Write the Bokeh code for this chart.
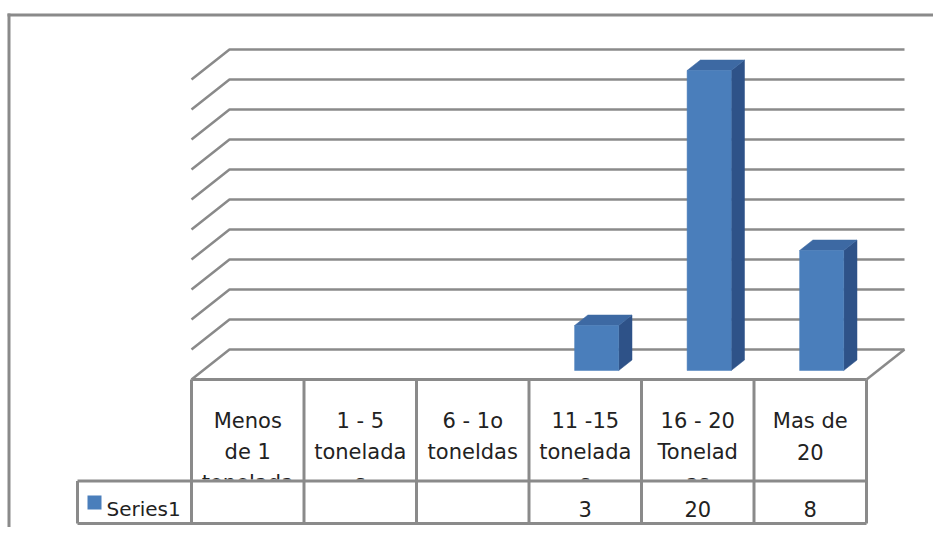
from bokeh.plotting import figure
from bokeh.models import Range1d
from bokeh.embed import file_html
from bokeh.resources import INLINE
from bokeh.core.properties import value as pval

# ---------------- data ----------------
series_name = "Series1"
categories = ["Menos de 1 tonelada", "1 - 5 toneladas", "6 - 1o toneldas",
              "11 -15 toneladas", "16 - 20 Toneladas", "Mas de 20"]
category_lines = [["Menos", "de 1", "tonelada"],
                  ["1 - 5", "tonelada", "s"],
                  ["6 - 1o", "toneldas"],
                  ["11 -15", "tonelada", "s"],
                  ["16 - 20", "Tonelad", "as"],
                  ["Mas de", "20"]]
values = [None, None, None, 3, 20, 8]
y_max = 20
y_step = 2

# ---------------- layout ----------------
W, H = 933, 527
COL0_X, COL_W = 191.0, 112.5      # px of category 0 left edge, column width
BASE_Y, UNIT_PX = 379.0, 15.0     # px of value 0 (front), px per value unit
DEPTH_DX, DEPTH_DY = 38.0, 30.0   # 3D depth offset in px

def px(X):
    return (X - COL0_X) / COL_W

def py(Y):
    return (BASE_Y - Y) / UNIT_PX

ZX = DEPTH_DX / COL_W
ZY = DEPTH_DY / UNIT_PX

def proj(x, v, z):
    return x + ZX * z, v + ZY * z

GRID = "#8A8A8A"
TEXT = "#222222"
FONT = "DejaVu Sans"
FS = "21px"
FRONT, TOP, SIDE = "#4A7EBB", "#3D69A3", "#2E5288"

p = figure(width=W, height=H,
           x_range=Range1d(px(0), px(W)),
           y_range=Range1d(py(H), py(0)),
           x_axis_location=None, y_axis_location=None,
           output_backend="svg", toolbar_location=None, min_border=0)
p.grid.visible = False
p.outline_line_color = None
p.background_fill_color = "white"
p.border_fill_color = "white"

n = len(categories)

# outer chart border (top and left visible)
p.line([px(8.5), px(8.5)], [py(13), py(H)], line_color="#8A8A8A", line_width=3)
p.line([px(7), px(W)], [py(14.5), py(14.5)], line_color="#8A8A8A", line_width=3)

# gridlines: left wall + back wall
gxs, gys = [], []
for v in range(0, y_max + 1, y_step):
    a = proj(0, v, 0)
    b = proj(0, v, 1)
    c = proj(n, v, 1)
    gxs.append([a[0], b[0], c[0]])
    gys.append([a[1], b[1], c[1]])
# floor right edge
a = proj(n, 0, 0)
b = proj(n, 0, 1)
gxs.append([a[0], b[0]])
gys.append([a[1], b[1]])
p.multi_line(gxs, gys, line_color=GRID, line_width=2.5)

# 3D bars
z0, z1 = 0.30, 0.65
hw = 0.196
fx, fy, txs, tys, sxs, sys_ = [], [], [], [], [], []
for i, v in enumerate(values):
    if not v:
        continue
    c = i + 0.5
    pts = [proj(c - hw, 0, z0), proj(c + hw, 0, z0), proj(c + hw, v, z0), proj(c - hw, v, z0)]
    fx.append([q[0] for q in pts]); fy.append([q[1] for q in pts])
    pts = [proj(c - hw, v, z0), proj(c + hw, v, z0), proj(c + hw, v, z1), proj(c - hw, v, z1)]
    txs.append([q[0] for q in pts]); tys.append([q[1] for q in pts])
    pts = [proj(c + hw, 0, z0), proj(c + hw, v, z0), proj(c + hw, v, z1), proj(c + hw, 0, z1)]
    sxs.append([q[0] for q in pts]); sys_.append([q[1] for q in pts])
p.patches(sxs, sys_, fill_color=SIDE, line_color=SIDE, line_width=0.5)
p.patches(txs, tys, fill_color=TOP, line_color=TOP, line_width=0.5)
p.patches(fx, fy, fill_color=FRONT, line_color=FRONT, line_width=0.5)

# category labels in data table
LINE_BASE = [420.5, 451.5, 482.5]
tx, ty, tt = [], [], []
for i, lines in enumerate(category_lines):
    for k, s in enumerate(lines):
        tx.append(i + 0.5)
        ty.append(py(LINE_BASE[k]))
        tt.append(s)
p.text(tx, ty, text=tt, text_align="center", text_baseline="alphabetic",
       text_font=pval(FONT), text_font_size=FS, text_color=TEXT)

# clip overflowing third line at the row border
ROW_Y, BOT_Y, LEFT_X = 480.5, 523.0, 77.0
p.quad(left=[0], right=[n], top=[py(479)], bottom=[py(500)],
       fill_color="white", line_color=None)

# data table grid
lxs, lys = [], []
lxs.append([0, n]); lys.append([0, 0])
for i in range(n + 1):
    lxs.append([i, i]); lys.append([0, py(BOT_Y)])
lxs.append([px(LEFT_X), n]); lys.append([py(ROW_Y), py(ROW_Y)])
lxs.append([px(LEFT_X), n]); lys.append([py(BOT_Y), py(BOT_Y)])
lxs.append([px(LEFT_X), px(LEFT_X)]); lys.append([py(ROW_Y), py(BOT_Y)])
p.multi_line(lxs, lys, line_color=GRID, line_width=3)

# series row: legend key, name, values
p.quad(left=[px(87)], right=[px(101)], top=[py(495)], bottom=[py(509)],
       fill_color=FRONT, line_color=None)
p.text([px(106)], [py(508)], text=[series_name], text_align="left",
       text_baseline="alphabetic", text_font=pval(FONT), text_font_size="20px",
       text_color=TEXT)
vx = [i + 0.5 for i, v in enumerate(values) if v is not None]
vt = [str(v) for v in values if v is not None]
p.text(vx, [py(508)] * len(vx), text=vt, text_align="center",
       text_baseline="alphabetic", text_font=pval(FONT), text_font_size=FS,
       text_color=TEXT)

open("out.html", "w").write(file_html(p, INLINE))
